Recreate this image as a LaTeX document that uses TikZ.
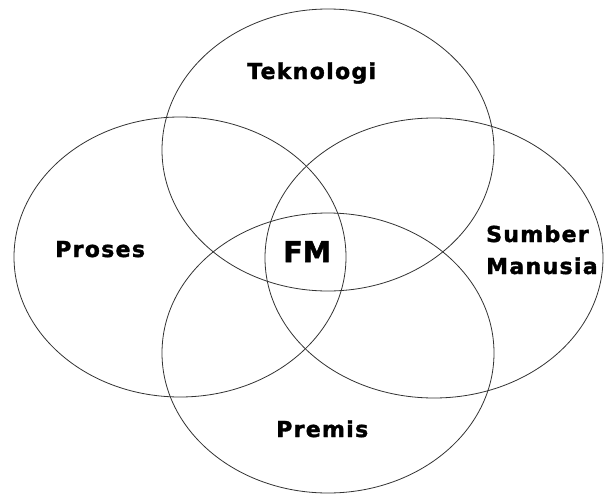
\documentclass[tikz,border=0pt]{standalone}
\usepackage{fontspec}
\newfontfamily\labfont[LetterSpace=6,FakeBold=1.6]{DejaVu Sans Bold}
\newfontfamily\fmfont[FakeBold=2]{DejaVu Sans Bold}
\begin{document}
\begin{tikzpicture}[x=1pt,y=-1pt,
  ring/.style={draw=black!80,line width=0.8pt},
  lab/.style={anchor=base west,inner sep=0pt,font=\labfont\fontsize{22}{26}\selectfont}]
\useasboundingbox (0,0) rectangle (605,495);
\fill[white] (0,0) rectangle (605,495);
\draw[ring] (328,150) ellipse [x radius=166, y radius=141];
\draw[ring] (180,257) ellipse [x radius=166, y radius=140];
\draw[ring] (434,258) ellipse [x radius=169, y radius=140];
\draw[ring] (328,353) ellipse [x radius=166, y radius=140];
\node[lab] (tek) at (247,79) {Teknologi};
\node[lab] (pro) at (55,257) {Proses};
\node[lab] (sum) at (486,242) {Sumber};
\node[lab] (man) at (486,274) {Manusia};
\node[lab] (pre) at (276,437) {Premis};
\node[anchor=base west,inner sep=0pt,font=\fmfont\fontsize{28.5}{32}\selectfont] (fm) at (283,262) {FM};
\end{tikzpicture}
\end{document}
